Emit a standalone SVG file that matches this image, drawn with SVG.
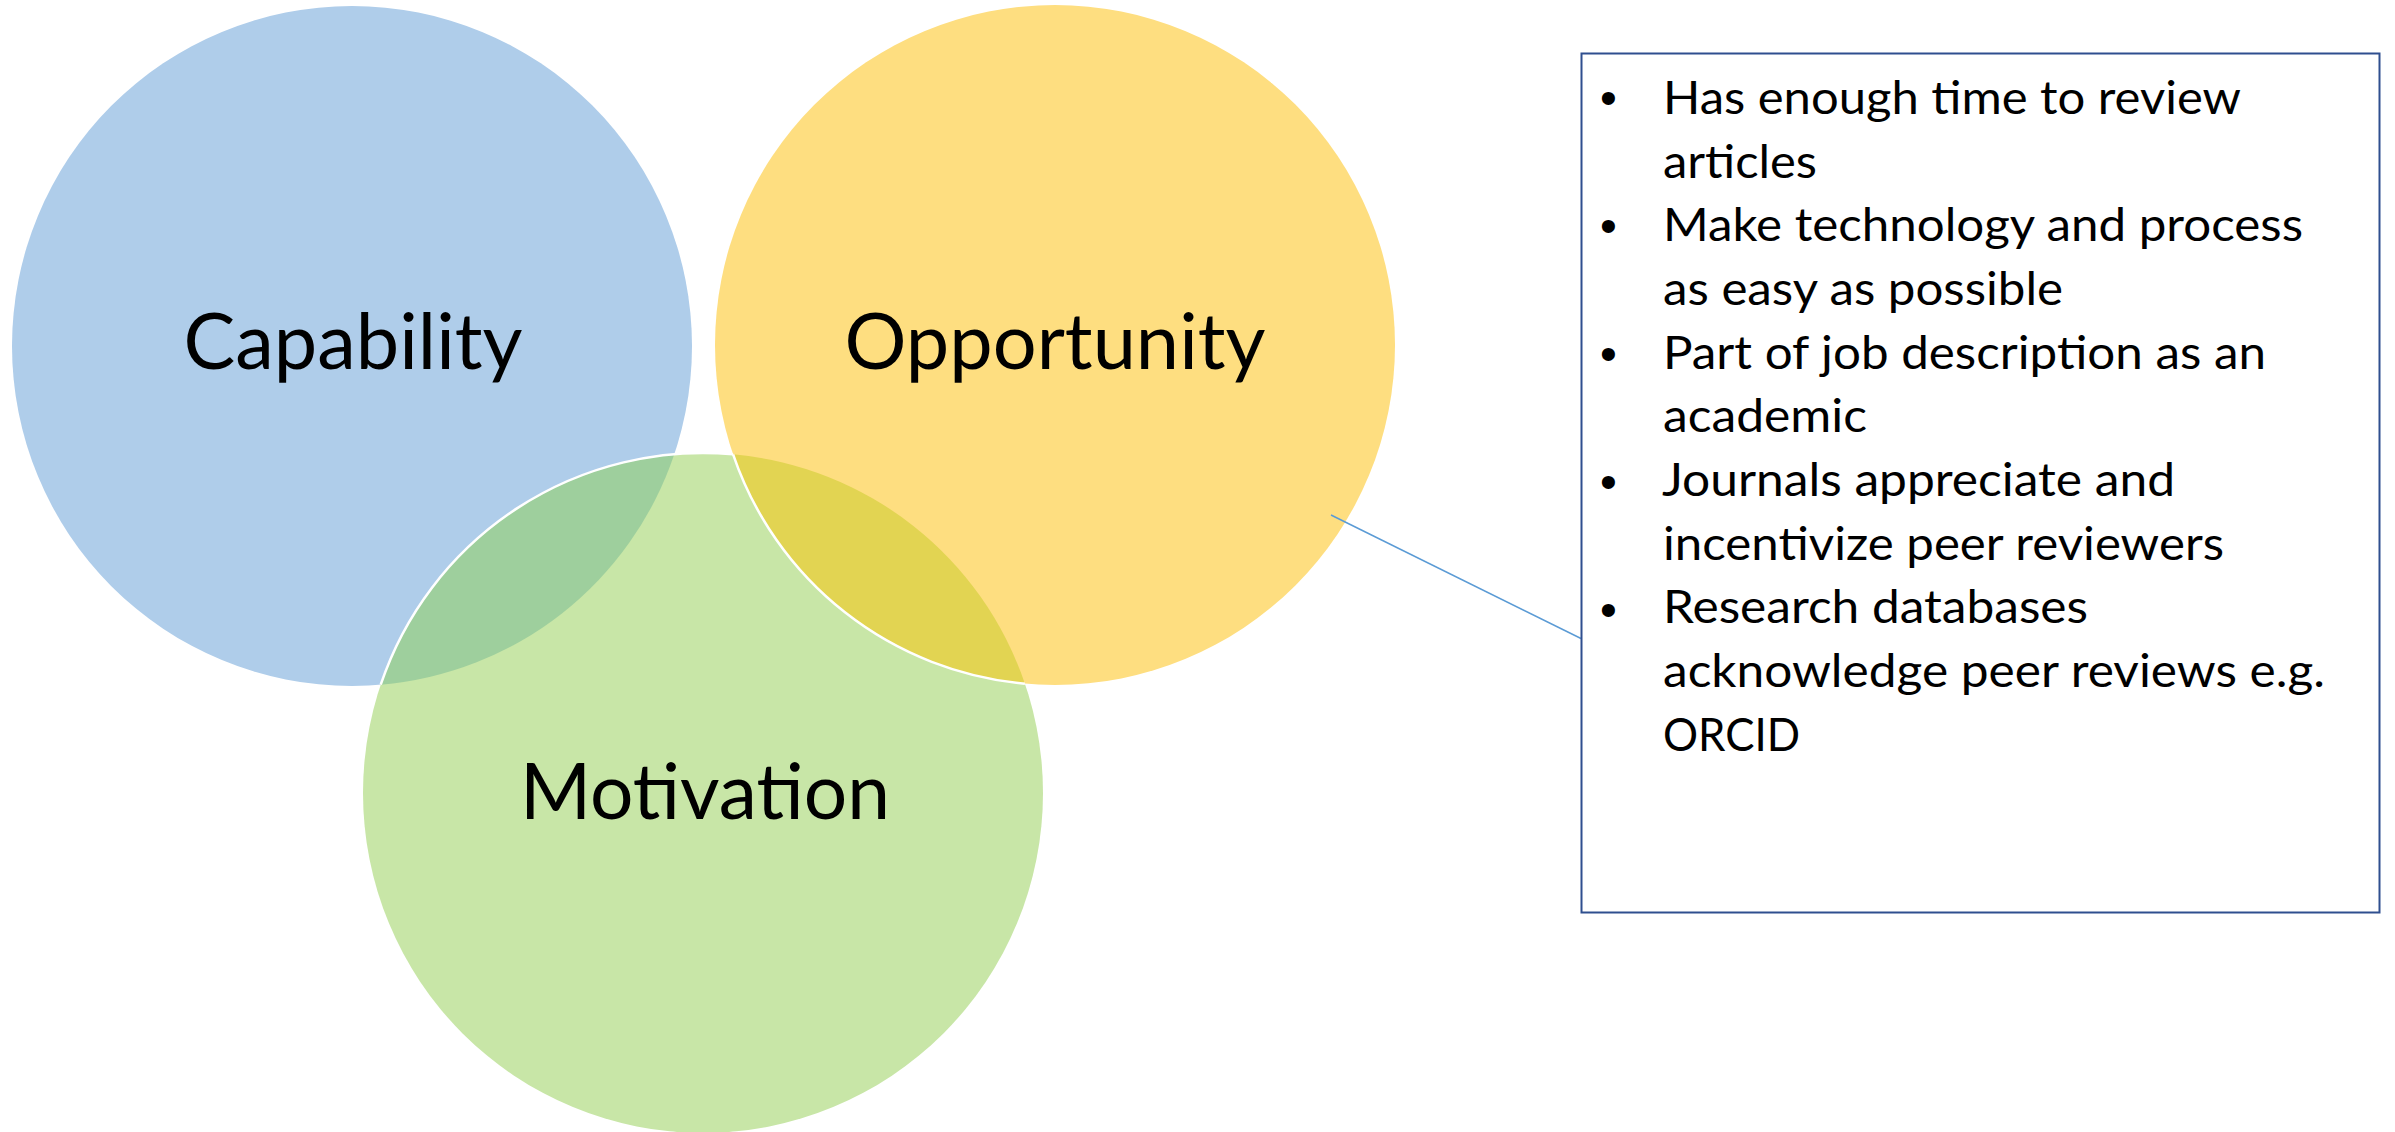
<svg xmlns="http://www.w3.org/2000/svg" width="2395" height="1132" viewBox="0 0 2395 1132">
<style>
.lbl{font-family:Lato,"Open Sans","Liberation Sans",sans-serif;font-size:77px;fill:#000;text-anchor:middle}
.item{font-family:Lato,"Open Sans","Liberation Sans",sans-serif;font-size:46px;fill:#000}
.bul{font-family:"Liberation Sans",Arial,sans-serif;font-size:48px;fill:#000}
.edge{stroke:#fff;stroke-width:2.5;fill:none}
</style>
<rect width="2395" height="1132" fill="#fff"/>
<g id="capability">
<circle cx="352" cy="346" r="340" fill="#AFCDEA"/>
</g>
<g id="motivation">
<circle cx="703" cy="793" r="340" fill="#C8E6A7"/>
</g>
<g id="opportunity">
<circle cx="1055" cy="345" r="340" fill="#FEDE80"/>
</g>
<g id="overlaps">
<path d="M674.3 454.3 A340 340 0 0 0 380.7 684.7 A340 340 0 0 0 674.3 454.3 Z" fill="#9ECF9D"/>
<path d="M733.1 454.3 A340 340 0 0 1 1024.9 683.7 A340 340 0 0 1 733.1 454.3 Z" fill="#E2D452"/>
<path class="edge" d="M380.7 684.7 A340 340 0 0 1 733.1 454.3"/>
<path class="edge" d="M733.1 454.3 A340 340 0 0 0 1024.9 683.7"/>
</g>
<g id="labels">
<text class="lbl" x="353" y="369" textLength="339" lengthAdjust="spacingAndGlyphs">Capability</text>
<text class="lbl" x="1055" y="369" textLength="421" lengthAdjust="spacingAndGlyphs">Opportunity</text>
<text class="lbl" x="705" y="819" textLength="370" lengthAdjust="spacingAndGlyphs">Motivation</text>
</g>
<g id="connectors">
<line x1="1331" y1="515" x2="1581" y2="638.5" stroke="#5B9BD5" stroke-width="1.5"/>
</g>
<g id="notes">
<rect x="1581.5" y="53.5" width="798" height="859" fill="#fff" stroke="#2F4F8F" stroke-width="2"/>
<text class="bul" x="1600" y="114">•</text>
<text class="bul" x="1600" y="242">•</text>
<text class="bul" x="1600" y="370">•</text>
<text class="bul" x="1600" y="498">•</text>
<text class="bul" x="1600" y="626">•</text>
<text class="item" x="1663" y="114" textLength="578" lengthAdjust="spacingAndGlyphs">Has enough time to review</text>
<text class="item" x="1663" y="178" textLength="154" lengthAdjust="spacingAndGlyphs">articles</text>
<text class="item" x="1663" y="241" textLength="640" lengthAdjust="spacingAndGlyphs">Make technology and process</text>
<text class="item" x="1663" y="305" textLength="400" lengthAdjust="spacingAndGlyphs">as easy as possible</text>
<text class="item" x="1663" y="369" textLength="603" lengthAdjust="spacingAndGlyphs">Part of job description as an</text>
<text class="item" x="1663" y="432" textLength="204" lengthAdjust="spacingAndGlyphs">academic</text>
<text class="item" x="1662" y="496" textLength="513" lengthAdjust="spacingAndGlyphs">Journals appreciate and</text>
<text class="item" x="1663" y="560" textLength="561" lengthAdjust="spacingAndGlyphs">incentivize peer reviewers</text>
<text class="item" x="1663" y="623" textLength="425" lengthAdjust="spacingAndGlyphs">Research databases</text>
<text class="item" x="1663" y="687" textLength="662" lengthAdjust="spacingAndGlyphs">acknowledge peer reviews e.g.</text>
<text class="item" x="1663" y="751" textLength="137" lengthAdjust="spacingAndGlyphs">ORCID</text>
</g>
</svg>
